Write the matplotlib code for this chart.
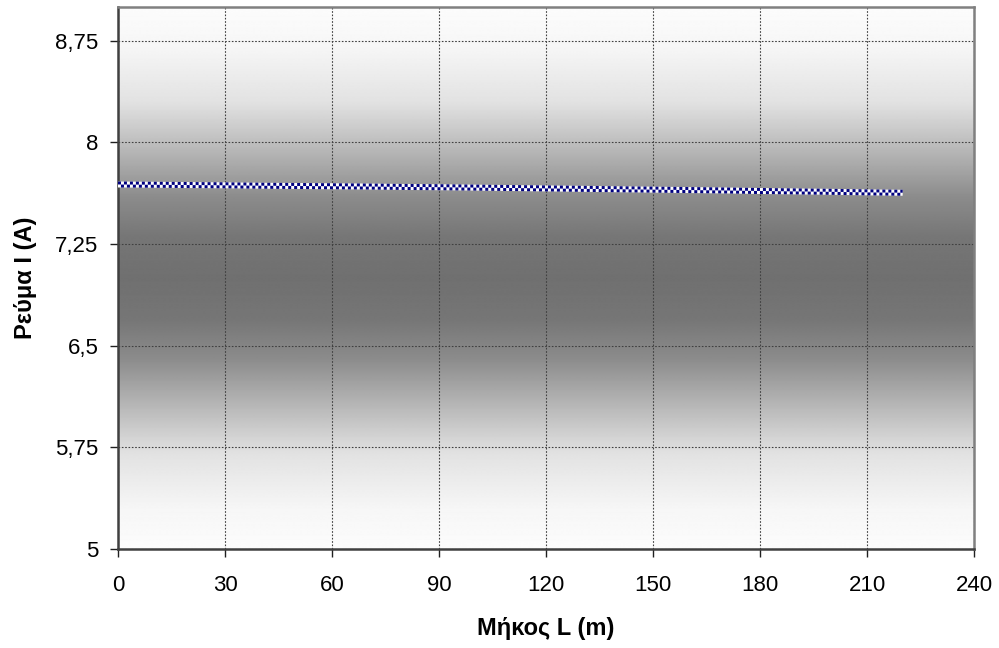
import numpy as np
import matplotlib
matplotlib.use("Agg")
import matplotlib.pyplot as plt
from matplotlib import transforms
from matplotlib.ticker import FixedLocator, FuncFormatter

# Current along the cable length
length_m = [0, 10, 20, 30, 40, 50, 60, 70, 80, 90, 100, 110,
            120, 130, 140, 150, 160, 170, 180, 190, 200, 210, 220]
current_a = [7.690, 7.688, 7.686, 7.684, 7.681, 7.679, 7.677, 7.675,
             7.672, 7.670, 7.667, 7.664, 7.661, 7.658, 7.655, 7.652,
             7.649, 7.646, 7.642, 7.639, 7.636, 7.632, 7.629]

x_ticks = [0, 30, 60, 90, 120, 150, 180, 210, 240]
y_ticks = [5, 5.75, 6.5, 7.25, 8, 8.75]

plt.rcParams['font.family'] = ['Liberation Sans', 'DejaVu Sans']

fig = plt.figure(figsize=(9.99, 6.48), dpi=100)
ax = fig.add_axes([0.1181, 0.1528, 0.975 - 0.1181, 0.9892 - 0.1528])

xmin, xmax, ymin, ymax = 0, 240, 5, 9

# vertical gradient: light at top and bottom, dark grey band in the middle
n = 600
t = np.linspace(0, 1, n)
dist = np.abs(2 * t - 1)          # 0 at centre, 1 at the edges
stops_d = [0.0, 0.15, 0.3, 0.5, 0.65, 0.85, 1.0]
stops_v = [112, 118, 140, 190, 226, 246, 252]
shade = np.interp(dist, stops_d, stops_v) / 255.0
grad = np.repeat(shade[:, None], 2, axis=1)
ax.imshow(grad, cmap='gray', vmin=0, vmax=1, extent=[xmin, xmax, ymin, ymax],
          aspect='auto', origin='lower', zorder=0, interpolation='bilinear')

ax.set_xlim(xmin, xmax)
ax.set_ylim(ymin, ymax)

# checkered line: white base with two offset rows of navy dashes
ax.plot(length_m, current_a, color='white', lw=4.3, zorder=3,
        solid_capstyle='butt')
up = transforms.offset_copy(ax.transData, fig=fig, x=0, y=1.1, units='points')
dn = transforms.offset_copy(ax.transData, fig=fig, x=0, y=-1.1, units='points')
ax.plot(length_m, current_a, color='#000080', lw=2.15, zorder=4,
        linestyle=(0, (1, 1)), transform=up, dash_capstyle='butt')
ax.plot(length_m, current_a, color='#000080', lw=2.15, zorder=4,
        linestyle=(1, (1, 1)), transform=dn, dash_capstyle='butt')

ax.xaxis.set_major_locator(FixedLocator(x_ticks))
ax.yaxis.set_major_locator(FixedLocator(y_ticks))
ax.yaxis.set_major_formatter(FuncFormatter(lambda v, p: f"{v:g}".replace('.', ',')))

ax.grid(True, color='#404040', lw=0.8, linestyle=(0, (1.5, 1.5)), zorder=1)
ax.set_axisbelow(True)

ax.tick_params(axis='both', direction='out', length=6, width=1,
               color='#202020', labelsize=16)
ax.tick_params(axis='x', pad=13)
ax.tick_params(axis='y', pad=8)

for s in ['left', 'bottom']:
    ax.spines[s].set_color('#404040')
    ax.spines[s].set_linewidth(1.8)
for s in ['top', 'right']:
    ax.spines[s].set_color('#808080')
    ax.spines[s].set_linewidth(1.8)

ax.set_xlabel('Μήκος L (m)', fontsize=17, fontweight='bold', labelpad=15)
ax.set_ylabel('Ρεύμα I (A)', fontsize=17, fontweight='bold', labelpad=13)

fig.savefig('out.png', dpi=100)
